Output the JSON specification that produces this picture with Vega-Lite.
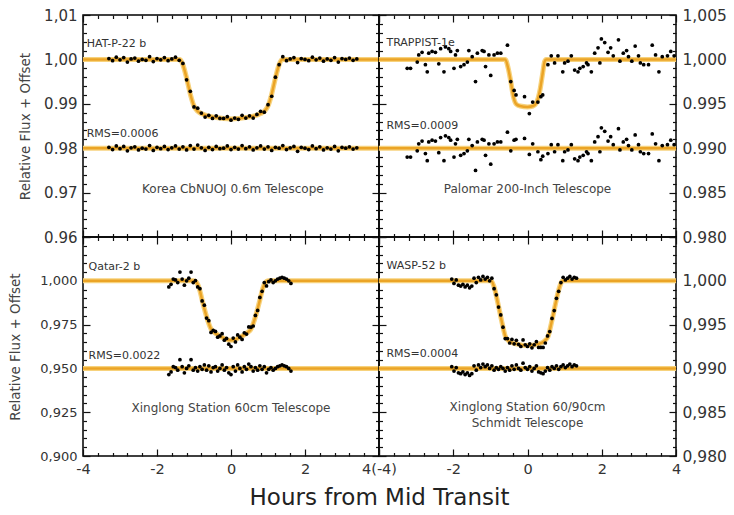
{
  "$schema": "https://vega.github.io/schema/vega-lite/v6.json",
  "padding": {"left": 8, "top": 7, "right": 4, "bottom": 4},
  "datasets": {
    "tl_fit": [
      {"s":"fit","x":-4,"y":1},{"s":"fit","x":-1.38,"y":1},{"s":"fit","x":-1.3,"y":0.9988},{"s":"fit","x":-1.2,"y":0.9958},{"s":"fit","x":-1.1,"y":0.9922},{"s":"fit","x":-1.0,"y":0.9895},{"s":"fit","x":-0.9,"y":0.9883},{"s":"fit","x":-0.8,"y":0.9878},{"s":"fit","x":-0.6,"y":0.9872},{"s":"fit","x":-0.4,"y":0.9869},{"s":"fit","x":-0.2,"y":0.9867},{"s":"fit","x":0,"y":0.9866},{"s":"fit","x":0.2,"y":0.9867},{"s":"fit","x":0.4,"y":0.9869},{"s":"fit","x":0.6,"y":0.9872},{"s":"fit","x":0.8,"y":0.9878},{"s":"fit","x":0.9,"y":0.9883},{"s":"fit","x":1.0,"y":0.9895},{"s":"fit","x":1.1,"y":0.9922},{"s":"fit","x":1.2,"y":0.9958},{"s":"fit","x":1.3,"y":0.9988},{"s":"fit","x":1.38,"y":1},{"s":"fit","x":4,"y":1},
      {"s":"res","x":-4,"y":0.98},{"s":"res","x":4,"y":0.98}
    ],
    "tl_pts": [
      {"x":-3.3,"y":1.0002,"r":0.9802},{"x":-3.2,"y":0.9997,"r":0.9797},{"x":-3.1,"y":1.0005,"r":0.9805},{"x":-3.0,"y":0.9999,"r":0.9799},{"x":-2.9,"y":1.0004,"r":0.9804},{"x":-2.8,"y":0.9994,"r":0.9794},{"x":-2.7,"y":1.0001,"r":0.9801},{"x":-2.6,"y":1.0003,"r":0.9803},{"x":-2.5,"y":0.9996,"r":0.9796},{"x":-2.4,"y":1.0,"r":0.98},{"x":-2.3,"y":0.9998,"r":0.9798},{"x":-2.2,"y":1.0006,"r":0.9806},{"x":-2.1,"y":0.9995,"r":0.9795},{"x":-2.0,"y":1.0002,"r":0.9802},{"x":-1.9,"y":0.9999,"r":0.9799},{"x":-1.8,"y":1.0004,"r":0.9804},{"x":-1.7,"y":0.9997,"r":0.9797},{"x":-1.6,"y":1.0001,"r":0.9801},{"x":-1.5,"y":1.0005,"r":0.9805},{"x":-1.4,"y":0.9998,"r":0.9798},
      {"x":-1.3,"y":0.9991,"r":0.9803},{"x":-1.2,"y":0.9954,"r":0.9796},{"x":-1.1,"y":0.9928,"r":0.9806},{"x":-1.0,"y":0.9893,"r":0.9798},{"x":-0.9,"y":0.989,"r":0.9807},{"x":-0.8,"y":0.9879,"r":0.9801},{"x":-0.7,"y":0.987,"r":0.9795},{"x":-0.6,"y":0.9874,"r":0.9802},{"x":-0.5,"y":0.9867,"r":0.9797},{"x":-0.4,"y":0.9873,"r":0.9804},{"x":-0.3,"y":0.9867,"r":0.9799},{"x":-0.2,"y":0.9867,"r":0.98},{"x":-0.1,"y":0.9871,"r":0.9805},{"x":0.0,"y":0.9863,"r":0.9797},{"x":0.1,"y":0.9868,"r":0.9802},{"x":0.2,"y":0.9865,"r":0.9798},{"x":0.3,"y":0.9874,"r":0.9806},{"x":0.4,"y":0.9868,"r":0.9799},{"x":0.5,"y":0.9873,"r":0.9803},{"x":0.6,"y":0.9868,"r":0.9796},{"x":0.7,"y":0.9876,"r":0.9801},{"x":0.8,"y":0.9883,"r":0.9805},{"x":0.9,"y":0.9881,"r":0.9798},{"x":1.0,"y":0.9898,"r":0.9803},{"x":1.1,"y":0.9917,"r":0.9795},{"x":1.2,"y":0.996,"r":0.9802},{"x":1.3,"y":0.9988,"r":0.98},
      {"x":1.4,"y":1.0006,"r":0.9806},{"x":1.5,"y":0.9997,"r":0.9797},{"x":1.6,"y":1.0001,"r":0.9801},{"x":1.7,"y":1.0004,"r":0.9804},{"x":1.8,"y":0.9993,"r":0.9793},{"x":1.9,"y":1.0002,"r":0.9802},{"x":2.0,"y":1.0,"r":0.98},{"x":2.1,"y":0.9997,"r":0.9797},{"x":2.2,"y":1.0005,"r":0.9805},{"x":2.3,"y":0.9999,"r":0.9799},{"x":2.4,"y":1.0003,"r":0.9803},{"x":2.5,"y":0.9996,"r":0.9796},{"x":2.6,"y":1.0001,"r":0.9801},{"x":2.7,"y":0.9998,"r":0.9798},{"x":2.8,"y":1.0004,"r":0.9804},{"x":2.9,"y":0.9994,"r":0.9794},{"x":3.0,"y":1.0002,"r":0.9802},{"x":3.1,"y":1.0,"r":0.98},{"x":3.2,"y":1.0003,"r":0.9803},{"x":3.3,"y":0.9998,"r":0.9798},{"x":3.4,"y":1.0001,"r":0.9801}
    ],
    "tr_fit": [
      {"s":"fit","x":-4,"y":1},{"s":"fit","x":-0.6,"y":1},{"s":"fit","x":-0.52,"y":0.999},{"s":"fit","x":-0.45,"y":0.9975},{"s":"fit","x":-0.38,"y":0.9958},{"s":"fit","x":-0.3,"y":0.99495},{"s":"fit","x":-0.2,"y":0.99475},{"s":"fit","x":0,"y":0.99465},{"s":"fit","x":0.15,"y":0.99475},{"s":"fit","x":0.25,"y":0.9952},{"s":"fit","x":0.33,"y":0.9964},{"s":"fit","x":0.4,"y":0.9982},{"s":"fit","x":0.46,"y":0.99975},{"s":"fit","x":0.5,"y":1},{"s":"fit","x":4,"y":1},
      {"s":"res","x":-4,"y":0.99},{"s":"res","x":4,"y":0.99}
    ],
    "tr_pts": [
      {"x":-3.24,"y":0.999,"r":0.989},{"x":-3.15,"y":0.999,"r":0.989},{"x":-2.97,"y":0.9997,"r":0.9897},{"x":-2.93,"y":1.0005,"r":0.9905},{"x":-2.84,"y":1.0008,"r":0.9908},{"x":-2.75,"y":0.9994,"r":0.9894},{"x":-2.7,"y":0.9986,"r":0.9886},{"x":-2.66,"y":1.0007,"r":0.9907},{"x":-2.57,"y":1.0009,"r":0.9909},{"x":-2.48,"y":1.0008,"r":0.9908},{"x":-2.39,"y":0.9995,"r":0.9895},{"x":-2.34,"y":1.0012,"r":0.9912},{"x":-2.25,"y":0.9986,"r":0.9886},{"x":-2.21,"y":1.0014,"r":0.9914},{"x":-2.12,"y":1.0012,"r":0.9912},{"x":-2.07,"y":1.0009,"r":0.9909},{"x":-1.98,"y":0.999,"r":0.989},{"x":-1.94,"y":1.0005,"r":0.9905},{"x":-1.89,"y":1.001,"r":0.991},{"x":-1.8,"y":0.9992,"r":0.9892},{"x":-1.71,"y":0.9994,"r":0.9894},{"x":-1.62,"y":0.9997,"r":0.9897},{"x":-1.58,"y":1.001,"r":0.991},{"x":-1.49,"y":1.0003,"r":0.9903},{"x":-1.4,"y":0.9975,"r":0.9875},{"x":-1.35,"y":1.0007,"r":0.9907},{"x":-1.22,"y":1.001,"r":0.991},{"x":-1.17,"y":1.0009,"r":0.9909},{"x":-1.13,"y":0.9992,"r":0.9892},{"x":-1.04,"y":1.0005,"r":0.9905},{"x":-0.99,"y":0.9982,"r":0.9882},{"x":-0.9,"y":1.0005,"r":0.9905},{"x":-0.81,"y":1.0007,"r":0.9907},{"x":-0.72,"y":1.0007,"r":0.9907},{"x":-0.54,"y":1.0016,"r":0.9918},
      {"x":-0.45,"y":0.9975,"r":0.9897},{"x":-0.36,"y":0.9965,"r":0.9909},{"x":-0.31,"y":0.996,"r":0.991},{"x":-0.08,"y":0.9958,"r":0.9911},{"x":0.05,"y":0.9939,"r":0.9893},{"x":0.14,"y":0.9952,"r":0.9905},{"x":0.28,"y":0.9952,"r":0.9896},{"x":0.36,"y":0.9958,"r":0.9887},{"x":0.41,"y":0.996,"r":0.9891},
      {"x":0.55,"y":0.9994,"r":0.9894},{"x":0.64,"y":1.0004,"r":0.9904},{"x":0.73,"y":0.9996,"r":0.9896},{"x":0.82,"y":1.0004,"r":0.9904},{"x":0.95,"y":0.9986,"r":0.9886},{"x":1.0,"y":0.9996,"r":0.9896},{"x":1.09,"y":0.9998,"r":0.9898},{"x":1.18,"y":1.0004,"r":0.9904},{"x":1.27,"y":0.9988,"r":0.9888},{"x":1.36,"y":0.9986,"r":0.9886},{"x":1.41,"y":0.999,"r":0.989},{"x":1.5,"y":0.9992,"r":0.9892},{"x":1.59,"y":0.9996,"r":0.9896},{"x":1.63,"y":0.9994,"r":0.9894},{"x":1.72,"y":0.9986,"r":0.9886},{"x":1.81,"y":1.0007,"r":0.9907},{"x":1.9,"y":1.0013,"r":0.9913},{"x":1.95,"y":0.9996,"r":0.9896},{"x":1.99,"y":1.0023,"r":0.9923},{"x":2.08,"y":1.0019,"r":0.9919},{"x":2.17,"y":1.0008,"r":0.9908},{"x":2.24,"y":1.0013,"r":0.9913},{"x":2.31,"y":1.0004,"r":0.9904},{"x":2.45,"y":1.0022,"r":0.9922},{"x":2.49,"y":0.9998,"r":0.9898},{"x":2.58,"y":1.0007,"r":0.9907},{"x":2.67,"y":1.001,"r":0.991},{"x":2.72,"y":1.0003,"r":0.9903},{"x":2.81,"y":0.9998,"r":0.9898},{"x":2.9,"y":1.0015,"r":0.9915},{"x":2.99,"y":1.0004,"r":0.9904},{"x":3.04,"y":0.9996,"r":0.9896},{"x":3.13,"y":0.9994,"r":0.9894},{"x":3.26,"y":0.9994,"r":0.9894},{"x":3.36,"y":1.0016,"r":0.9916},{"x":3.45,"y":1.0005,"r":0.9905},{"x":3.54,"y":0.9986,"r":0.9886},{"x":3.63,"y":1.0003,"r":0.9903},{"x":3.77,"y":1.0004,"r":0.9904},{"x":3.86,"y":1.0009,"r":0.9909},{"x":3.95,"y":1.0004,"r":0.9904}
    ],
    "bl_fit": [
      {"s":"fit","x":-4,"y":1},{"s":"fit","x":-1.0,"y":1},{"s":"fit","x":-0.93,"y":0.999},{"s":"fit","x":-0.86,"y":0.9958},{"s":"fit","x":-0.78,"y":0.989},{"s":"fit","x":-0.7,"y":0.9825},{"s":"fit","x":-0.62,"y":0.9768},{"s":"fit","x":-0.54,"y":0.9725},{"s":"fit","x":-0.45,"y":0.9705},{"s":"fit","x":-0.3,"y":0.9685},{"s":"fit","x":-0.15,"y":0.9668},{"s":"fit","x":0,"y":0.966},{"s":"fit","x":0.15,"y":0.9668},{"s":"fit","x":0.3,"y":0.9685},{"s":"fit","x":0.45,"y":0.9705},{"s":"fit","x":0.54,"y":0.9725},{"s":"fit","x":0.62,"y":0.9768},{"s":"fit","x":0.7,"y":0.9825},{"s":"fit","x":0.78,"y":0.989},{"s":"fit","x":0.86,"y":0.9958},{"s":"fit","x":0.93,"y":0.999},{"s":"fit","x":1.0,"y":1},{"s":"fit","x":4,"y":1},
      {"s":"res","x":-4,"y":0.95},{"s":"res","x":4,"y":0.95}
    ],
    "bl_pts": [
      {"x":-1.68,"y":0.9965,"r":0.9465},{"x":-1.62,"y":0.998,"r":0.948},{"x":-1.56,"y":1.001,"r":0.951},{"x":-1.5,"y":1.0005,"r":0.9505},{"x":-1.44,"y":0.999,"r":0.949},{"x":-1.38,"y":1.005,"r":0.955},{"x":-1.32,"y":1.001,"r":0.951},{"x":-1.26,"y":0.9975,"r":0.9475},{"x":-1.2,"y":1.0,"r":0.95},{"x":-1.14,"y":1.0015,"r":0.9515},{"x":-1.08,"y":1.005,"r":0.955},{"x":-1.02,"y":0.999,"r":0.949},{"x":-0.96,"y":1.0001,"r":0.9505},{"x":-0.9,"y":0.9965,"r":0.9485},{"x":-0.84,"y":0.9955,"r":0.951},{"x":-0.78,"y":0.9885,"r":0.9495},{"x":-0.72,"y":0.9861,"r":0.952},{"x":-0.66,"y":0.9787,"r":0.949},{"x":-0.6,"y":0.9772,"r":0.9515},{"x":-0.54,"y":0.9705,"r":0.948},{"x":-0.48,"y":0.9717,"r":0.9505},{"x":-0.42,"y":0.9711,"r":0.951},{"x":-0.36,"y":0.9678,"r":0.9485},{"x":-0.3,"y":0.9685,"r":0.95},{"x":-0.24,"y":0.9698,"r":0.952},{"x":-0.18,"y":0.9661,"r":0.949},{"x":-0.12,"y":0.9671,"r":0.9505},{"x":-0.06,"y":0.9638,"r":0.9475},{"x":0,"y":0.9625,"r":0.9465},{"x":0.06,"y":0.9673,"r":0.951},{"x":0.12,"y":0.9651,"r":0.9485},{"x":0.18,"y":0.9691,"r":0.952},{"x":0.24,"y":0.9678,"r":0.95},{"x":0.3,"y":0.9665,"r":0.948},{"x":0.36,"y":0.9703,"r":0.951},{"x":0.42,"y":0.9696,"r":0.9495},{"x":0.48,"y":0.9737,"r":0.9525},{"x":0.54,"y":0.9735,"r":0.951},{"x":0.6,"y":0.9742,"r":0.9485},{"x":0.66,"y":0.9802,"r":0.9505},{"x":0.72,"y":0.9831,"r":0.949},{"x":0.78,"y":0.9905,"r":0.9515},{"x":0.84,"y":0.994,"r":0.9495},{"x":0.9,"y":0.999,"r":0.951},{"x":0.96,"y":0.9971,"r":0.9475},{"x":1.02,"y":0.9995,"r":0.9495},{"x":1.08,"y":1.0005,"r":0.9505},{"x":1.14,"y":0.999,"r":0.949},{"x":1.2,"y":1.0,"r":0.95},{"x":1.26,"y":1.001,"r":0.951},{"x":1.32,"y":1.0015,"r":0.9515},{"x":1.38,"y":1.002,"r":0.952},{"x":1.44,"y":1.0015,"r":0.9515},{"x":1.5,"y":1.001,"r":0.951},{"x":1.56,"y":1.0,"r":0.95},{"x":1.62,"y":0.9985,"r":0.9485}
    ],
    "br_fit": [
      {"s":"fit","x":-4,"y":1},{"s":"fit","x":-0.98,"y":1},{"s":"fit","x":-0.9,"y":0.9993},{"s":"fit","x":-0.8,"y":0.9975},{"s":"fit","x":-0.7,"y":0.9955},{"s":"fit","x":-0.6,"y":0.9937},{"s":"fit","x":-0.5,"y":0.9931},{"s":"fit","x":-0.3,"y":0.9928},{"s":"fit","x":0,"y":0.9926},{"s":"fit","x":0.3,"y":0.9928},{"s":"fit","x":0.45,"y":0.9931},{"s":"fit","x":0.55,"y":0.9936},{"s":"fit","x":0.65,"y":0.9953},{"s":"fit","x":0.75,"y":0.9973},{"s":"fit","x":0.85,"y":0.9991},{"s":"fit","x":0.95,"y":1},{"s":"fit","x":4,"y":1},
      {"s":"res","x":-4,"y":0.99},{"s":"res","x":4,"y":0.99}
    ],
    "br_pts": [
      {"x":-2.04,"y":1.0002,"r":0.9902},{"x":-1.98,"y":0.9997,"r":0.9897},{"x":-1.92,"y":1.0001,"r":0.9901},{"x":-1.86,"y":0.9995,"r":0.9895},{"x":-1.8,"y":0.9994,"r":0.9894},{"x":-1.74,"y":0.9996,"r":0.9896},{"x":-1.68,"y":0.9993,"r":0.9893},{"x":-1.62,"y":0.9995,"r":0.9895},{"x":-1.56,"y":0.9992,"r":0.9892},{"x":-1.5,"y":0.9994,"r":0.9894},{"x":-1.44,"y":1.0003,"r":0.9903},{"x":-1.38,"y":0.9998,"r":0.9898},{"x":-1.32,"y":1.0004,"r":0.9904},{"x":-1.26,"y":1.0001,"r":0.9901},{"x":-1.2,"y":1.0005,"r":0.9905},{"x":-1.14,"y":1.0002,"r":0.9902},{"x":-1.08,"y":1.0004,"r":0.9904},{"x":-1.02,"y":1.0,"r":0.99},{"x":-0.96,"y":1.0003,"r":0.9903},{"x":-0.9,"y":0.9991,"r":0.9898},{"x":-0.84,"y":0.9984,"r":0.9901},{"x":-0.78,"y":0.997,"r":0.9899},{"x":-0.72,"y":0.9961,"r":0.9902},{"x":-0.66,"y":0.9947,"r":0.99},{"x":-0.6,"y":0.9934,"r":0.9897},{"x":-0.54,"y":0.9934,"r":0.9901},{"x":-0.48,"y":0.9929,"r":0.9898},{"x":-0.42,"y":0.9933,"r":0.9903},{"x":-0.36,"y":0.9928,"r":0.9899},{"x":-0.3,"y":0.9932,"r":0.9904},{"x":-0.24,"y":0.99275,"r":0.99},{"x":-0.18,"y":0.9925,"r":0.9898},{"x":-0.12,"y":0.99325,"r":0.9906},{"x":-0.06,"y":0.9927,"r":0.9901},{"x":0,"y":0.9925,"r":0.9899},{"x":0.06,"y":0.9928,"r":0.9902},{"x":0.12,"y":0.99235,"r":0.9897},{"x":0.18,"y":0.9927,"r":0.99},{"x":0.24,"y":0.99305,"r":0.9903},{"x":0.3,"y":0.9924,"r":0.9896},{"x":0.36,"y":0.9924,"r":0.9895},{"x":0.42,"y":0.9924,"r":0.9894},{"x":0.48,"y":0.9929,"r":0.9897},{"x":0.54,"y":0.9937,"r":0.9901},{"x":0.6,"y":0.9942,"r":0.9898},{"x":0.66,"y":0.9957,"r":0.9902},{"x":0.72,"y":0.9966,"r":0.99},{"x":0.78,"y":0.998,"r":0.9903},{"x":0.84,"y":0.9988,"r":0.9899},{"x":0.9,"y":0.9998,"r":0.9902},{"x":0.96,"y":1.0004,"r":0.9904},{"x":1.02,"y":1.0001,"r":0.9901},{"x":1.08,"y":1.0003,"r":0.9903},{"x":1.14,"y":1.0005,"r":0.9905},{"x":1.2,"y":1.0002,"r":0.9902},{"x":1.26,"y":1.0004,"r":0.9904},{"x":1.32,"y":1.0003,"r":0.9903}
    ]
  },
  "concat": [
    {
      "width": 296, "height": 222,
      "resolve": {"axis": {"x": "independent", "y": "independent"}},
      "layer": [
        {"data": {"name": "tl_fit"}, "mark": {"type": "line", "interpolate": "monotone", "color": "#f7d27c", "strokeWidth": 5, "clip": true},
         "encoding": {
           "x": {"field": "x", "type": "quantitative", "scale": {"domain": [-4, 4], "nice": false, "zero": false},
                 "axis": {"orient": "bottom", "title": null, "labels": false, "values": [-4,-3.6,-3.2,-2.8,-2.4,-2,-1.6,-1.2,-0.8,-0.4,0,0.4,0.8,1.2,1.6,2,2.4,2.8,3.2,3.6,4],
                          "tickSize": {"condition": {"test": "abs(datum.value/2-round(datum.value/2))<0.01", "value": -7}, "value": -3.5}}},
           "y": {"field": "y", "type": "quantitative", "scale": {"domain": [0.96, 1.01], "nice": false, "zero": false},
                 "axis": {"orient": "left", "title": "Relative Flux + Offset", "titlePadding": 11, "labelFontSize": 15,
                          "values": [0.96,0.962,0.964,0.966,0.968,0.97,0.972,0.974,0.976,0.978,0.98,0.982,0.984,0.986,0.988,0.99,0.992,0.994,0.996,0.998,1,1.002,1.004,1.006,1.008,1.01],
                          "labelExpr": "abs(datum.value*100-round(datum.value*100))<0.01 ? (datum.value>0.995 ? replace(format(datum.value,'.2f'),'.',',') : format(datum.value,'.2f')) : ''",
                          "tickSize": {"condition": {"test": "abs(datum.value*100-round(datum.value*100))<0.01", "value": -7}, "value": -3.5}}},
           "detail": {"field": "s"}}},
        {"data": {"name": "tl_fit"}, "mark": {"type": "line", "interpolate": "monotone", "color": "#eba426", "strokeWidth": 2.5, "clip": true},
         "encoding": {
           "x": {"field": "x", "type": "quantitative", "scale": {"domain": [-4, 4], "nice": false, "zero": false},
                 "axis": {"orient": "top", "title": null, "labels": false, "values": [-4,-3.6,-3.2,-2.8,-2.4,-2,-1.6,-1.2,-0.8,-0.4,0,0.4,0.8,1.2,1.6,2,2.4,2.8,3.2,3.6,4],
                          "tickSize": {"condition": {"test": "abs(datum.value/2-round(datum.value/2))<0.01", "value": -7}, "value": -3.5}}},
           "y": {"field": "y", "type": "quantitative", "scale": {"domain": [0.96, 1.01], "nice": false, "zero": false},
                 "axis": {"orient": "right", "title": null, "labels": false,
                          "values": [0.96,0.962,0.964,0.966,0.968,0.97,0.972,0.974,0.976,0.978,0.98,0.982,0.984,0.986,0.988,0.99,0.992,0.994,0.996,0.998,1,1.002,1.004,1.006,1.008,1.01],
                          "tickSize": {"condition": {"test": "abs(datum.value*100-round(datum.value*100))<0.01", "value": -7}, "value": -3.5}}},
           "detail": {"field": "s"}}},
        {"data": {"name": "tl_pts"}, "mark": {"type": "circle", "size": 14, "color": "black", "opacity": 1},
         "encoding": {"x": {"field": "x", "type": "quantitative", "axis": null}, "y": {"field": "y", "type": "quantitative", "axis": null}}},
        {"data": {"name": "tl_pts"}, "mark": {"type": "circle", "size": 14, "color": "black", "opacity": 1},
         "encoding": {"x": {"field": "x", "type": "quantitative", "axis": null}, "y": {"field": "r", "type": "quantitative", "axis": null}}},
        {"data": {"values": [{"x": -3.9, "y": 1.0034, "t": "HAT-P-22 b"}, {"x": -3.9, "y": 0.9832, "t": "RMS=0.0006"}]},
         "mark": {"type": "text", "align": "left", "baseline": "middle", "fontSize": 11, "color": "#333"},
         "encoding": {"x": {"field": "x", "type": "quantitative", "axis": null}, "y": {"field": "y", "type": "quantitative", "axis": null}, "text": {"field": "t"}}},
        {"data": {"values": [{"x": 0.05, "y": 0.9709, "t": "Korea CbNUOJ 0.6m Telescope"}]},
         "mark": {"type": "text", "align": "center", "baseline": "middle", "fontSize": 12, "color": "#444"},
         "encoding": {"x": {"field": "x", "type": "quantitative", "axis": null}, "y": {"field": "y", "type": "quantitative", "axis": null}, "text": {"field": "t"}}}
      ]
    },
    {
      "width": 297, "height": 222,
      "resolve": {"axis": {"x": "independent", "y": "independent"}},
      "layer": [
        {"data": {"name": "tr_fit"}, "mark": {"type": "line", "interpolate": "monotone", "color": "#f7d27c", "strokeWidth": 5, "clip": true},
         "encoding": {
           "x": {"field": "x", "type": "quantitative", "scale": {"domain": [-4, 4], "nice": false, "zero": false},
                 "axis": {"orient": "bottom", "title": null, "labels": false, "values": [-4,-3.6,-3.2,-2.8,-2.4,-2,-1.6,-1.2,-0.8,-0.4,0,0.4,0.8,1.2,1.6,2,2.4,2.8,3.2,3.6,4],
                          "tickSize": {"condition": {"test": "abs(datum.value/2-round(datum.value/2))<0.01", "value": -7}, "value": -3.5}}},
           "y": {"field": "y", "type": "quantitative", "scale": {"domain": [0.98, 1.005], "nice": false, "zero": false},
                 "axis": {"orient": "right", "title": null, "labelFontSize": 15.5,
                          "values": [0.98,0.981,0.982,0.983,0.984,0.985,0.986,0.987,0.988,0.989,0.99,0.991,0.992,0.993,0.994,0.995,0.996,0.997,0.998,0.999,1,1.001,1.002,1.003,1.004,1.005],
                          "labelExpr": "abs(datum.value*200-round(datum.value*200))<0.01 ? (datum.value>0.9975 ? replace(format(datum.value,'.3f'),'.',',') : format(datum.value,'.3f')) : ''",
                          "tickSize": {"condition": {"test": "abs(datum.value*200-round(datum.value*200))<0.01", "value": -7}, "value": -3.5}}},
           "detail": {"field": "s"}}},
        {"data": {"name": "tr_fit"}, "mark": {"type": "line", "interpolate": "monotone", "color": "#eba426", "strokeWidth": 2.5, "clip": true},
         "encoding": {
           "x": {"field": "x", "type": "quantitative", "scale": {"domain": [-4, 4], "nice": false, "zero": false},
                 "axis": {"orient": "top", "title": null, "labels": false, "values": [-4,-3.6,-3.2,-2.8,-2.4,-2,-1.6,-1.2,-0.8,-0.4,0,0.4,0.8,1.2,1.6,2,2.4,2.8,3.2,3.6,4],
                          "tickSize": {"condition": {"test": "abs(datum.value/2-round(datum.value/2))<0.01", "value": -7}, "value": -3.5}}},
           "y": {"field": "y", "type": "quantitative", "scale": {"domain": [0.98, 1.005], "nice": false, "zero": false},
                 "axis": {"orient": "left", "title": null, "labels": false,
                          "values": [0.98,0.981,0.982,0.983,0.984,0.985,0.986,0.987,0.988,0.989,0.99,0.991,0.992,0.993,0.994,0.995,0.996,0.997,0.998,0.999,1,1.001,1.002,1.003,1.004,1.005],
                          "tickSize": {"condition": {"test": "abs(datum.value*200-round(datum.value*200))<0.01", "value": -7}, "value": -3.5}}},
           "detail": {"field": "s"}}},
        {"data": {"name": "tr_pts"}, "mark": {"type": "circle", "size": 14, "color": "black", "opacity": 1},
         "encoding": {"x": {"field": "x", "type": "quantitative", "axis": null}, "y": {"field": "y", "type": "quantitative", "axis": null}}},
        {"data": {"name": "tr_pts"}, "mark": {"type": "circle", "size": 14, "color": "black", "opacity": 1},
         "encoding": {"x": {"field": "x", "type": "quantitative", "axis": null}, "y": {"field": "r", "type": "quantitative", "axis": null}}},
        {"data": {"values": [{"x": -3.8, "y": 1.0019, "t": "TRAPPIST-1e"}, {"x": -3.8, "y": 0.9925, "t": "RMS=0.0009"}]},
         "mark": {"type": "text", "align": "left", "baseline": "middle", "fontSize": 11, "color": "#333"},
         "encoding": {"x": {"field": "x", "type": "quantitative", "axis": null}, "y": {"field": "y", "type": "quantitative", "axis": null}, "text": {"field": "t"}}},
        {"data": {"values": [{"x": 0, "y": 0.98545, "t": "Palomar 200-Inch Telescope"}]},
         "mark": {"type": "text", "align": "center", "baseline": "middle", "fontSize": 12, "color": "#444"},
         "encoding": {"x": {"field": "x", "type": "quantitative", "axis": null}, "y": {"field": "y", "type": "quantitative", "axis": null}, "text": {"field": "t"}}}
      ]
    },
    {
      "width": 296, "height": 219,
      "resolve": {"axis": {"x": "independent", "y": "independent"}},
      "layer": [
        {"data": {"name": "bl_fit"}, "mark": {"type": "line", "interpolate": "monotone", "color": "#f7d27c", "strokeWidth": 5, "clip": true},
         "encoding": {
           "x": {"field": "x", "type": "quantitative", "scale": {"domain": [-4, 4], "nice": false, "zero": false},
                 "axis": {"orient": "bottom", "title": "Hours from Mid Transit", "titleX": 296, "titleAlign": "center", "titleAnchor": null, "titlePadding": 7, "titleFontSize": 23, "titleColor": "#222", "titleFontWeight": "normal",
                          "labelFontSize": 14.5, "values": [-4,-3.6,-3.2,-2.8,-2.4,-2,-1.6,-1.2,-0.8,-0.4,0,0.4,0.8,1.2,1.6,2,2.4,2.8,3.2,3.6,4],
                          "labelExpr": "abs(datum.value/2-round(datum.value/2))<0.01 ? (datum.value==4 ? '4(-4)' : datum.value+'') : ''",
                          "tickSize": {"condition": {"test": "abs(datum.value/2-round(datum.value/2))<0.01", "value": -7}, "value": -3.5}}},
           "y": {"field": "y", "type": "quantitative", "scale": {"domain": [0.9, 1.025], "nice": false, "zero": false},
                 "axis": {"orient": "left", "title": "Relative Flux + Offset", "titlePadding": 17, "labelFontSize": 13,
                          "values": [0.9,0.905,0.91,0.915,0.92,0.925,0.93,0.935,0.94,0.945,0.95,0.955,0.96,0.965,0.97,0.975,0.98,0.985,0.99,0.995,1,1.005,1.01,1.015,1.02,1.025],
                          "labelExpr": "abs(datum.value*40-round(datum.value*40))<0.01 && datum.value<1.01 ? replace(format(datum.value,'.3f'),'.',',') : ''",
                          "tickSize": {"condition": {"test": "abs(datum.value*40-round(datum.value*40))<0.01", "value": -7}, "value": -3.5}}},
           "detail": {"field": "s"}}},
        {"data": {"name": "bl_fit"}, "mark": {"type": "line", "interpolate": "monotone", "color": "#eba426", "strokeWidth": 2.5, "clip": true},
         "encoding": {
           "x": {"field": "x", "type": "quantitative", "scale": {"domain": [-4, 4], "nice": false, "zero": false},
                 "axis": {"orient": "top", "title": null, "labels": false, "values": [-4,-3.6,-3.2,-2.8,-2.4,-2,-1.6,-1.2,-0.8,-0.4,0,0.4,0.8,1.2,1.6,2,2.4,2.8,3.2,3.6,4],
                          "tickSize": {"condition": {"test": "abs(datum.value/2-round(datum.value/2))<0.01", "value": -7}, "value": -3.5}}},
           "y": {"field": "y", "type": "quantitative", "scale": {"domain": [0.9, 1.025], "nice": false, "zero": false},
                 "axis": {"orient": "right", "title": null, "labels": false,
                          "values": [0.9,0.905,0.91,0.915,0.92,0.925,0.93,0.935,0.94,0.945,0.95,0.955,0.96,0.965,0.97,0.975,0.98,0.985,0.99,0.995,1,1.005,1.01,1.015,1.02,1.025],
                          "tickSize": {"condition": {"test": "abs(datum.value*40-round(datum.value*40))<0.01", "value": -7}, "value": -3.5}}},
           "detail": {"field": "s"}}},
        {"data": {"name": "bl_pts"}, "mark": {"type": "circle", "size": 14, "color": "black", "opacity": 1},
         "encoding": {"x": {"field": "x", "type": "quantitative", "axis": null}, "y": {"field": "y", "type": "quantitative", "axis": null}}},
        {"data": {"name": "bl_pts"}, "mark": {"type": "circle", "size": 14, "color": "black", "opacity": 1},
         "encoding": {"x": {"field": "x", "type": "quantitative", "axis": null}, "y": {"field": "r", "type": "quantitative", "axis": null}}},
        {"data": {"values": [{"x": -3.85, "y": 1.008, "t": "Qatar-2 b"}, {"x": -3.85, "y": 0.9568, "t": "RMS=0.0022"}]},
         "mark": {"type": "text", "align": "left", "baseline": "middle", "fontSize": 11, "color": "#333"},
         "encoding": {"x": {"field": "x", "type": "quantitative", "axis": null}, "y": {"field": "y", "type": "quantitative", "axis": null}, "text": {"field": "t"}}},
        {"data": {"values": [{"x": 0, "y": 0.9273, "t": "Xinglong Station 60cm Telescope"}]},
         "mark": {"type": "text", "align": "center", "baseline": "middle", "fontSize": 12, "color": "#444"},
         "encoding": {"x": {"field": "x", "type": "quantitative", "axis": null}, "y": {"field": "y", "type": "quantitative", "axis": null}, "text": {"field": "t"}}}
      ]
    },
    {
      "width": 297, "height": 219,
      "resolve": {"axis": {"x": "independent", "y": "independent"}},
      "layer": [
        {"data": {"name": "br_fit"}, "mark": {"type": "line", "interpolate": "monotone", "color": "#f7d27c", "strokeWidth": 5, "clip": true},
         "encoding": {
           "x": {"field": "x", "type": "quantitative", "scale": {"domain": [-4, 4], "nice": false, "zero": false},
                 "axis": {"orient": "bottom", "title": null, "labelFontSize": 14.5, "values": [-4,-3.6,-3.2,-2.8,-2.4,-2,-1.6,-1.2,-0.8,-0.4,0,0.4,0.8,1.2,1.6,2,2.4,2.8,3.2,3.6,4],
                          "labelExpr": "abs(datum.value/2-round(datum.value/2))<0.01 && datum.value>-3.9 ? datum.value+'' : ''",
                          "tickSize": {"condition": {"test": "abs(datum.value/2-round(datum.value/2))<0.01", "value": -7}, "value": -3.5}}},
           "y": {"field": "y", "type": "quantitative", "scale": {"domain": [0.98, 1.005], "nice": false, "zero": false},
                 "axis": {"orient": "right", "title": null, "labelFontSize": 15.5,
                          "values": [0.98,0.981,0.982,0.983,0.984,0.985,0.986,0.987,0.988,0.989,0.99,0.991,0.992,0.993,0.994,0.995,0.996,0.997,0.998,0.999,1,1.001,1.002,1.003,1.004,1.005],
                          "labelExpr": "abs(datum.value*200-round(datum.value*200))<0.01 && datum.value<1.004 ? replace(format(datum.value,'.3f'),'.',',') : ''",
                          "tickSize": {"condition": {"test": "abs(datum.value*200-round(datum.value*200))<0.01", "value": -7}, "value": -3.5}}},
           "detail": {"field": "s"}}},
        {"data": {"name": "br_fit"}, "mark": {"type": "line", "interpolate": "monotone", "color": "#eba426", "strokeWidth": 2.5, "clip": true},
         "encoding": {
           "x": {"field": "x", "type": "quantitative", "scale": {"domain": [-4, 4], "nice": false, "zero": false},
                 "axis": {"orient": "top", "title": null, "labels": false, "values": [-4,-3.6,-3.2,-2.8,-2.4,-2,-1.6,-1.2,-0.8,-0.4,0,0.4,0.8,1.2,1.6,2,2.4,2.8,3.2,3.6,4],
                          "tickSize": {"condition": {"test": "abs(datum.value/2-round(datum.value/2))<0.01", "value": -7}, "value": -3.5}}},
           "y": {"field": "y", "type": "quantitative", "scale": {"domain": [0.98, 1.005], "nice": false, "zero": false},
                 "axis": {"orient": "left", "title": null, "labels": false,
                          "values": [0.98,0.981,0.982,0.983,0.984,0.985,0.986,0.987,0.988,0.989,0.99,0.991,0.992,0.993,0.994,0.995,0.996,0.997,0.998,0.999,1,1.001,1.002,1.003,1.004,1.005],
                          "tickSize": {"condition": {"test": "abs(datum.value*200-round(datum.value*200))<0.01", "value": -7}, "value": -3.5}}},
           "detail": {"field": "s"}}},
        {"data": {"name": "br_pts"}, "mark": {"type": "circle", "size": 14, "color": "black", "opacity": 1},
         "encoding": {"x": {"field": "x", "type": "quantitative", "axis": null}, "y": {"field": "y", "type": "quantitative", "axis": null}}},
        {"data": {"name": "br_pts"}, "mark": {"type": "circle", "size": 14, "color": "black", "opacity": 1},
         "encoding": {"x": {"field": "x", "type": "quantitative", "axis": null}, "y": {"field": "r", "type": "quantitative", "axis": null}}},
        {"data": {"values": [{"x": -3.8, "y": 1.0017, "t": "WASP-52 b"}, {"x": -3.8, "y": 0.9917, "t": "RMS=0.0004"}]},
         "mark": {"type": "text", "align": "left", "baseline": "middle", "fontSize": 11, "color": "#333"},
         "encoding": {"x": {"field": "x", "type": "quantitative", "axis": null}, "y": {"field": "y", "type": "quantitative", "axis": null}, "text": {"field": "t"}}},
        {"data": {"values": [{"x": 0, "y": 0.98557, "t": "Xinglong Station 60/90cm"}, {"x": 0, "y": 0.98375, "t": "Schmidt Telescope"}]},
         "mark": {"type": "text", "align": "center", "baseline": "middle", "fontSize": 12, "color": "#444"},
         "encoding": {"x": {"field": "x", "type": "quantitative", "axis": null}, "y": {"field": "y", "type": "quantitative", "axis": null}, "text": {"field": "t"}}}
      ]
    }
  ],
  "columns": 2,
  "spacing": 0,
  "bounds": "flush",
  "config": {
    "font": "DejaVu Sans",
    "view": {"stroke": "black", "strokeWidth": 1.5},
    "axis": {"domain": false, "grid": false, "labelFont": "DejaVu Sans", "labelColor": "#333", "tickColor": "#111", "tickWidth": 1.2, "labelPadding": 13, "labelFlush": false, "labelOverlap": false, "labelBound": false, "titleFont": "DejaVu Sans", "titleFontSize": 13.5, "titleFontWeight": "normal", "titleColor": "#444"}
  }
}
